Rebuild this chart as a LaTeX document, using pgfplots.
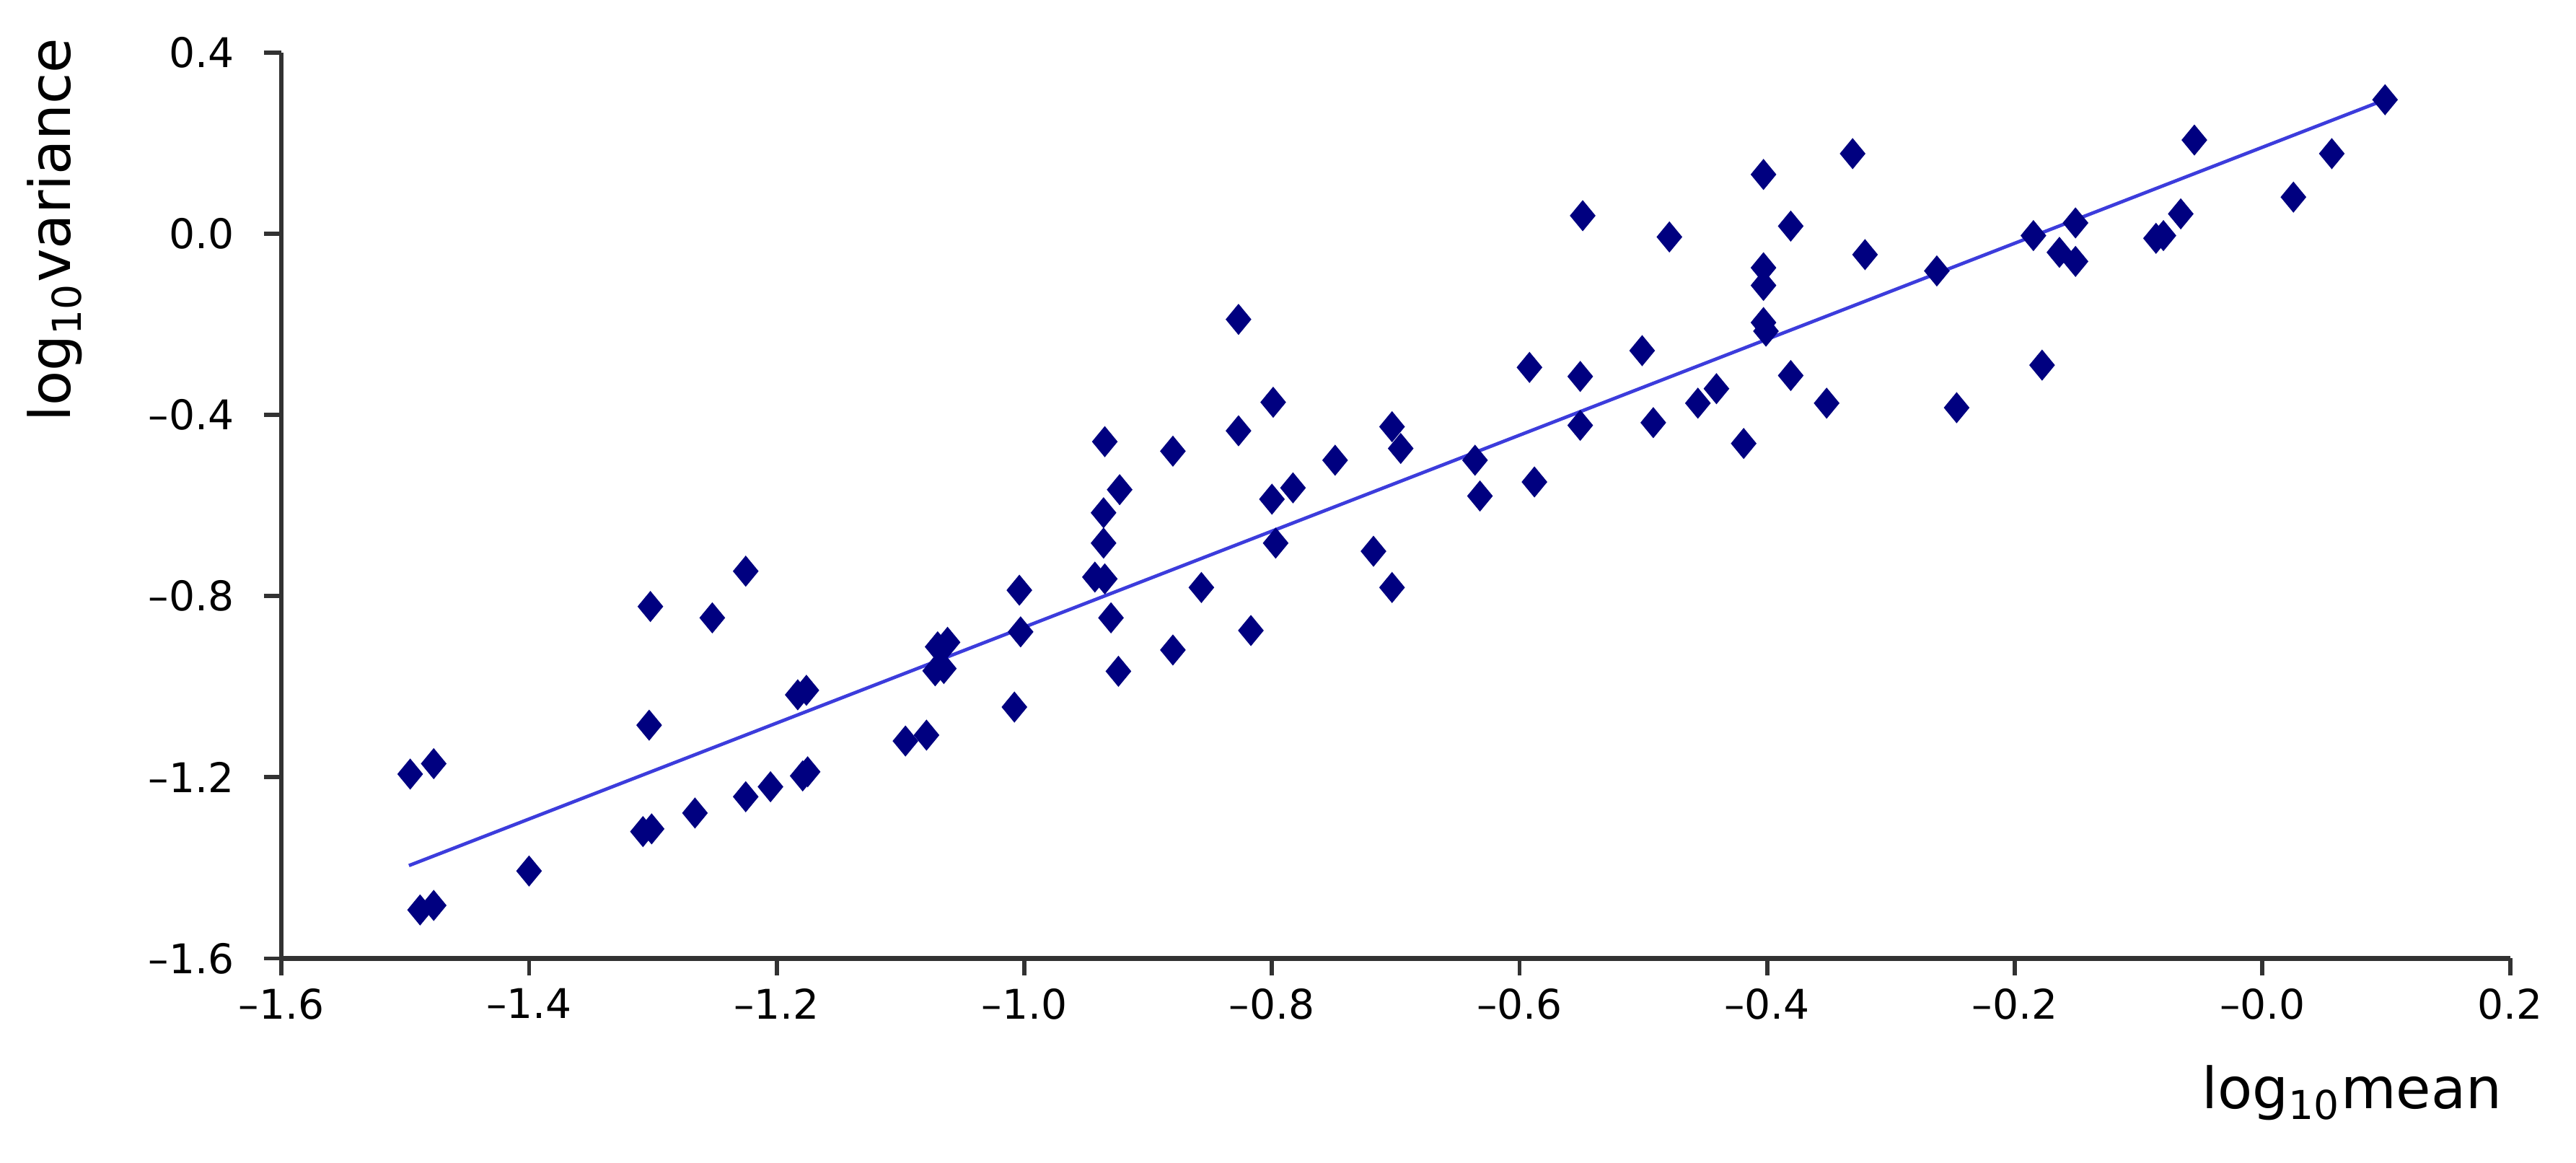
\documentclass[border=0pt]{standalone}
\usepackage{pgfplots}
\pgfplotsset{compat=1.18}
\usepackage{fontspec}
\setmainfont{DejaVu Sans}
\definecolor{mk}{RGB}{0,0,128}
\definecolor{ln}{RGB}{60,60,220}
\definecolor{ax}{RGB}{50,50,50}
\begin{document}
\begin{tikzpicture}
\path[use as bounding box] (-74.3pt,-54pt) rectangle (605.8pt,253pt);
\begin{axis}[
  scale only axis,
  width=588.4pt, height=239.1pt,
  xmin=-1.6, xmax=0.2, ymin=-1.6, ymax=0.4,
  axis x line*=bottom, axis y line*=left,
  axis line style={ax, line width=1.2pt, -},
  tick style={ax, line width=1.1pt},
  tick align=outside, major tick length=4.5pt,
  xtick={-1.6,-1.4,-1.2,-1.0,-0.8,-0.6,-0.4,-0.2,0,0.2},
  xticklabels={–1.6,–1.4,–1.2,–1.0,–0.8,–0.6,–0.4,–0.2,–0.0,0.2},
  ytick={-1.6,-1.2,-0.8,-0.4,0,0.4},
  yticklabels={–1.6,–1.2,–0.8,–0.4,0.0,0.4},
  ticklabel style={font=\fontsize{10.8}{12}\selectfont},
  xticklabel style={yshift=0pt},
  yticklabel style={xshift=-4.5pt},
  clip=false,
]
\addplot[ln, line width=0.9pt, no marks] coordinates {(-1.497,-1.395) (0.099,0.296)};
\addplot[only marks, mark=diamond*, mark size=3.8pt, mk, mark options={fill=mk, draw=mk, xscale=1.1}] table {
x y
-1.496 -1.193
-1.477 -1.170
-1.488 -1.493
-1.477 -1.483
-1.400 -1.407
-1.302 -0.823
-1.303 -1.085
-1.308 -1.320
-1.301 -1.314
-1.266 -1.279
-1.252 -0.848
-1.225 -0.745
-1.225 -1.243
-1.205 -1.221
-1.183 -1.018
-1.176 -1.008
-1.179 -1.197
-1.175 -1.188
-1.096 -1.120
-1.079 -1.107
-1.070 -0.912
-1.062 -0.902
-1.072 -0.965
-1.065 -0.960
-1.008 -1.045
-1.004 -0.787
-1.003 -0.879
-0.935 -0.459
-0.923 -0.565
-0.936 -0.616
-0.936 -0.683
-0.943 -0.758
-0.935 -0.762
-0.930 -0.848
-0.924 -0.966
-0.880 -0.480
-0.857 -0.781
-0.880 -0.919
-0.817 -0.876
-0.827 -0.189
-0.799 -0.372
-0.827 -0.435
-0.800 -0.586
-0.783 -0.561
-0.797 -0.683
-0.749 -0.500
-0.703 -0.426
-0.696 -0.474
-0.718 -0.701
-0.703 -0.781
-0.636 -0.500
-0.632 -0.579
-0.592 -0.295
-0.588 -0.548
-0.551 -0.315
-0.551 -0.423
-0.501 -0.258
-0.492 -0.417
-0.549 0.040
-0.479 -0.007
-0.403 0.131
-0.331 0.177
-0.381 0.017
-0.321 -0.046
-0.403 -0.075
-0.403 -0.114
-0.403 -0.196
-0.401 -0.215
-0.263 -0.082
-0.352 -0.374
-0.381 -0.313
-0.419 -0.463
-0.441 -0.342
-0.456 -0.374
0.099 0.296
0.056 0.177
-0.055 0.207
0.025 0.081
-0.066 0.044
-0.080 -0.004
-0.086 -0.010
-0.151 0.024
-0.185 -0.004
-0.164 -0.041
-0.151 -0.061
-0.178 -0.290
-0.247 -0.384
};
\node[font=\fontsize{15}{18}\selectfont, anchor=base east] at ([shift={(1.4pt,-39.6pt)}]rel axis cs:1,0) {log\textsubscript{10}mean};
\node[font=\fontsize{15}{18}\selectfont, anchor=base east, rotate=90] at ([shift={(-55.7pt,7.4pt)}]rel axis cs:0,1) {log\textsubscript{10}variance};
\end{axis}
\end{tikzpicture}
\end{document}
